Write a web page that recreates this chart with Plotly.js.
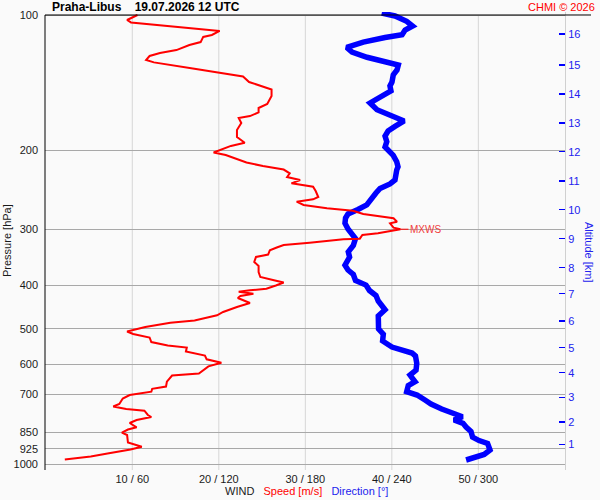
<!DOCTYPE html>
<html>
<head>
<meta charset="utf-8">
<script src="https://cdn.plot.ly/plotly-3.0.1.min.js"></script>
<style>html,body{margin:0;padding:0;background:#fafafa;}#chart{width:600px;height:500px;}</style>
</head>
<body>
<div id="chart"></div>
<script>
// Wind speed profile [m/s] vs pressure [hPa]
var speedP = [100,102.6,103.9,105.3,106.9,108.5,110.8,111.9,114.9,116.6,119.7,121.5,123.4,125.9,127.5,129.6,131.5,134.3,137.1,141.0,143.9,146.5,151.5,157.8,161.1,164.8,167.9,169.6,174.0,177.6,180.4,187.0,192.5,195.7,202.4,205.0,209.3,213.1,216.9,220.9,225.2,229.5,233.1,237.1,241.2,246.6,254.3,257.3,260.5,264.9,269.4,272.8,277.4,283.6,288.6,291.1,297.6,300.0,306.4,309.0,314.9,315.9,321.4,325.3,329.5,334.3,341.6,345.9,354.9,362.2,373.5,383.2,390.2,394.2,400.3,407.0,410.4,413.6,417.6,422.6,426.9,437.9,447.0,458.6,466.4,479.0,484.5,495.3,506.9,513.4,522.7,535.0,544.6,550.3,561.7,573.4,584.6,594.9,606.0,628.7,635.3,655.8,672.2,680.2,690.2,702.0,714.7,735.2,744.6,754.2,760.8,777.8,785.8,798.0,810.4,828.5,837.9,851.0,861.9,895.7,915.3,928.4,946.7,962.3,977.2];
var speedVal = [10.6,9.4,9.85,13.0,16.4,20.1,19.2,18.2,17.9,16.6,15.1,13.2,12.0,11.6,12.5,15.2,17.0,19.9,22.8,23.5,24.8,26.1,26.1,25.6,24.6,24.6,23.6,22.3,22.6,22.3,22.1,22.1,23.0,21.4,19.4,20.8,22.1,23.2,25.1,27.5,28.2,27.9,29.4,28.4,30.9,31.2,31.5,30.9,29.0,29.8,32.5,35.5,36.7,40.2,40.6,39.8,40.2,41.0,38.4,36.6,36.3,34.4,30.5,27.5,26.7,25.9,25.7,24.3,24.1,24.6,24.6,24.8,26.5,27.5,26.6,25.5,23.6,22.3,24.0,22.5,22.2,23.6,22.1,20.5,19.8,17.2,14.4,11.5,9.4,10.1,12.0,12.2,14.1,16.3,16.2,18.4,18.6,20.3,18.8,17.7,14.6,14.0,13.9,12.3,12.2,9.7,8.9,8.5,7.8,9.3,11.4,11.8,12.2,10.5,9.7,10.5,9.5,8.8,9.4,9.5,11.1,9.8,7.3,5.2,2.2];

// Wind direction profile [deg] vs pressure [hPa]
var dirP = [99.0,100.5,103.3,105.8,108.0,110.6,112.2,114.9,118.1,120.9,124.2,126.6,129.2,132.6,136.0,141.0,143.9,147.6,151.9,157.0,162.5,167.3,172.2,177.1,181.3,186.0,191.5,196.8,199.8,205.5,212.2,217.7,221.4,229.2,233.1,237.9,243.4,249.2,256.9,264.9,271.2,277.4,283.2,291.0,299.6,305.8,314.6,325.9,336.9,345.9,360.8,369.8,378.4,390.2,399.5,410.8,421.5,433.5,442.5,453.5,468.2,482.8,500.5,514.1,532.1,548.9,558.3,566.1,574.9,596.8,617.6,633.7,655.8,668.7,690.2,702.0,720.3,735.2,754.2,771.1,784.7,798.0,811.7,827.2,846.5,870.9,886.7,899.5,930.8,952.4,964.7,979.7];
var dirVal = [233.0,242.2,250.3,254.4,249.2,247.1,235.3,220.2,208.7,212.4,222.8,234.1,244.5,243.6,241.0,240.1,238.7,239.4,231.8,224.9,229.7,238.7,248.5,242.2,237.4,235.3,236.5,235.3,237.4,241.0,243.4,244.3,243.4,242.9,242.2,238.7,231.8,229.0,226.3,222.6,216.5,209.6,207.9,207.5,209.6,212.2,214.8,213.3,209.8,210.7,207.5,209.6,213.3,214.8,222.1,224.5,229.0,230.6,233.2,235.3,230.6,230.6,230.8,234.1,233.6,240.1,247.8,254.0,256.4,257.3,256.8,252.6,256.1,251.4,250.3,257.5,263.0,267.2,274.6,281.8,289.0,283.1,289.4,291.5,294.9,296.0,300.5,306.4,308.1,304.0,297.7,291.5];

// Tick labels
var pressureTicks = [100,200,300,400,500,600,700,850,925,1000];
var speedTicks = [10,20,30,40,50];
var dirTicks = [60,120,180,240,300];
var altKm = [1,2,3,4,5,6,7,8,9,10,11,12,13,14,15,16];
var altP = [904.0,806.4,710.5,626.1,550.8,480.3,417.6,365.4,314.9,271.4,234.3,201.6,174.0,149.9,129.2,110.3];

var FONT = 'Liberation Sans, Arial, sans-serif';
var yRange = [3.01336, 1.99332];
var topY = 0.99345; // paper position of the 100 hPa frame line

var maxIdx = 0;
for (var i = 1; i < speedVal.length; i++) if (speedVal[i] > speedVal[maxIdx]) maxIdx = i;
var maxS = speedVal[maxIdx], maxP = speedP[maxIdx];

var tickText = speedTicks.map(function (s, k) { return s + ' / ' + dirTicks[k]; });

var traces = [
  {x: dirVal, y: dirP, xaxis: 'x', yaxis: 'y', type: 'scatter', mode: 'lines',
   line: {color: '#0000ff', width: 5.5}, hoverinfo: 'skip'},
  {x: speedVal, y: speedP, xaxis: 'x2', yaxis: 'y2', type: 'scatter', mode: 'lines',
   line: {color: '#ff0000', width: 2}, hoverinfo: 'skip'}
];

var shapes = [];
dirTicks.forEach(function (d) {
  shapes.push({type: 'line', xref: 'x', yref: 'paper', x0: d, x1: d, y0: 0, y1: topY,
    line: {color: '#d6d6d6', width: 1}, layer: 'below'});
});
shapes.push({type: 'line', xref: 'paper', yref: 'paper', x0: 0, x1: 1.05, y0: topY, y1: topY,
  line: {color: '#000000', width: 1}});
shapes.push({type: 'line', xref: 'paper', yref: 'paper', x0: 0, x1: 0, y0: 0, y1: topY,
  line: {color: '#000000', width: 1}});
shapes.push({type: 'line', xref: 'paper', yref: 'y2', x0: -0.004, x1: 0.019,
  y0: Math.log10(maxP), y1: Math.log10(maxP), line: {color: '#ff0000', width: 1}});
shapes.push({type: 'line', xref: 'paper', yref: 'y2', x0: 0.981, x1: 1.003,
  y0: Math.log10(maxP), y1: Math.log10(maxP), line: {color: '#ff0000', width: 1}});

var layout = {
  width: 600, height: 500,
  margin: {l: 45, r: 35, t: 12, b: 30, pad: 0},
  paper_bgcolor: '#fafafa', plot_bgcolor: '#fafafa',
  showlegend: false,
  font: {family: FONT, size: 11, color: '#1a1a1a'},
  xaxis: {range: [-0.54, 360.1], tickvals: dirTicks, ticktext: tickText, showgrid: false,
    zeroline: false, showline: false, ticks: '', ticklabelstandoff: 1,
    tickfont: {family: FONT, size: 11, color: '#1a1a1a'}},
  xaxis2: {range: [-0.09, 60.02], overlaying: 'x', anchor: 'y2', visible: false},
  yaxis: {type: 'log', range: yRange, tickvals: pressureTicks, ticktext: pressureTicks.map(String),
    showgrid: true, gridcolor: '#a8a8a8', gridwidth: 1, zeroline: false, showline: false,
    ticks: '', ticklabelstandoff: 6, tickfont: {family: FONT, size: 11, color: '#1a1a1a'}},
  yaxis2: {type: 'log', range: yRange, overlaying: 'y', side: 'right', anchor: 'x2',
    tickvals: altP, ticktext: altKm.map(String), showgrid: false, zeroline: false,
    showline: true, linecolor: '#d0d0d0', linewidth: 1,
    ticks: 'inside', ticklen: 6, tickcolor: '#0000ff', tickwidth: 1.5,
    tickfont: {family: FONT, size: 11, color: '#2222ee'}},
  shapes: shapes,
  annotations: [
    {xref: 'paper', yref: 'paper', x: (50 - 45) / 520, y: (470 - 7) / 458, xanchor: 'left', yanchor: 'middle',
     text: '<b>Praha-Libus\u00a0\u00a0\u00a0\u00a019.07.2026 12 UTC</b>', showarrow: false,
     font: {family: FONT, size: 12, color: '#000000'}},
    {xref: 'paper', yref: 'paper', x: (597 - 45) / 520, y: (470 - 7) / 458, xanchor: 'right', yanchor: 'middle',
     text: 'CHMI \u00a9 2026', showarrow: false, font: {family: FONT, size: 11, color: '#ff0000'}},
    {xref: 'paper', yref: 'paper', x: (7 - 45) / 520, y: 0.5, xanchor: 'center', yanchor: 'middle',
     text: 'Pressure [hPa]', textangle: -90, showarrow: false, font: {family: FONT, size: 11, color: '#1a1a1a'}},
    {xref: 'paper', yref: 'paper', x: (589 - 45) / 520, y: (470 - 252) / 458, xanchor: 'center', yanchor: 'middle',
     text: 'Altitude [km]', textangle: 90, showarrow: false, font: {family: FONT, size: 11, color: '#2222ee'}},
    {xref: 'paper', yref: 'paper', x: (306.5 - 45) / 520, y: (470 - 491) / 458, xanchor: 'center', yanchor: 'middle',
     text: '<span style="color:#1a1a1a">WIND</span>\u00a0\u00a0\u00a0<span style="color:#ff0000">Speed [m/s]</span>\u00a0\u00a0\u00a0<span style="color:#2222ee">Direction [\u00b0]</span>',
     showarrow: false, font: {family: FONT, size: 11}},
    {xref: 'x2', yref: 'y2', x: maxS, y: Math.log10(maxP), text: 'MXWS', showarrow: true,
     ax: 25, ay: 0, arrowhead: 0, arrowwidth: 1, arrowcolor: '#ff0000', standoff: 0,
     font: {family: FONT, size: 10, color: '#f04040'}}
  ]
};

Plotly.newPlot('chart', traces, layout, {staticPlot: true, displayModeBar: false});
</script>
</body>
</html>
